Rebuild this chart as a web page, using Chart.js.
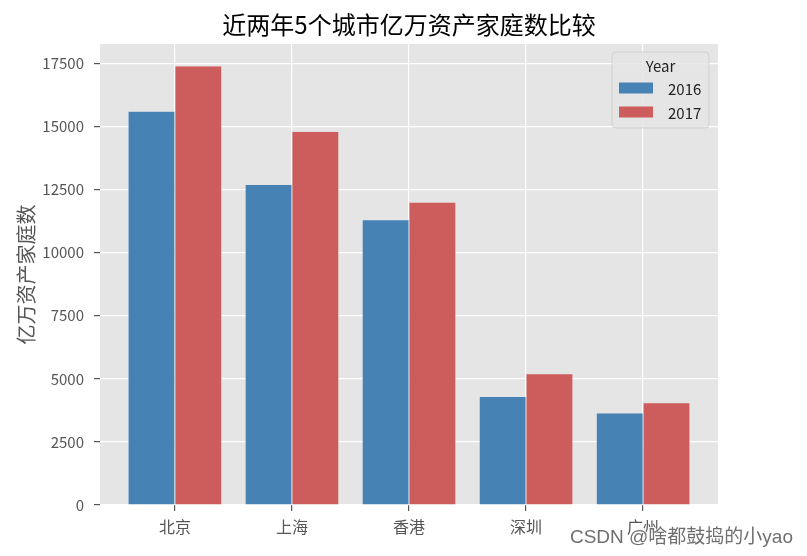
<!DOCTYPE html>
<html>
<head>
<meta charset="utf-8">
<script src="https://cdn.jsdelivr.net/npm/chart.js@4.4.0/dist/chart.umd.min.js"></script>
<style>
  html, body { margin: 0; padding: 0; background: #fff; }
  #wrap { width: 807px; height: 556px; }
</style>
</head>
<body>
<div id="wrap"><canvas id="chart" width="807" height="556"></canvas></div>
<script>
const cities = ['北京', '上海', '香港', '深圳', '广州'];
const years = ['2016', '2017'];
const values2016 = [15600, 12700, 11300, 4300, 3650];
const values2017 = [17400, 14800, 12000, 5200, 4050];
const yTicks = [0, 2500, 5000, 7500, 10000, 12500, 15000, 17500];

const FONT = '"Noto Sans CJK SC", "Noto Sans", sans-serif';

// gray panel behind the plot (ggplot look)
const panelBg = {
    id: 'panelBg',
    beforeDraw(chart) {
        const { ctx, chartArea: a } = chart;
        ctx.save();
        ctx.fillStyle = '#E5E5E5';
        ctx.fillRect(a.left, a.top, a.right - a.left, a.bottom - a.top);
        ctx.restore();
    }
};

// legend box inside the plot, top right, with title "Year"
const boxLegend = {
    id: 'boxLegend',
    afterDraw(chart) {
        const { ctx } = chart;
        const x = 612, y = 52, w = 97, h = 76;
        ctx.save();
        ctx.beginPath();
        ctx.roundRect(x, y, w, h, 4);
        ctx.fillStyle = 'rgba(229,229,229,0.85)';
        ctx.fill();
        ctx.strokeStyle = 'rgba(204,204,204,0.8)';
        ctx.lineWidth = 1;
        ctx.stroke();
        ctx.fillStyle = '#222';
        ctx.font = '15px ' + FONT;
        ctx.textAlign = 'center';
        ctx.textBaseline = 'middle';
        ctx.fillText('Year', x + w / 2, y + 14);
        ctx.textAlign = 'left';
        ctx.font = '15px ' + FONT;
        chart.data.datasets.forEach((ds, i) => {
            const cy = y + 36 + i * 24;
            ctx.fillStyle = ds.backgroundColor;
            ctx.fillRect(x + 7, cy - 5.5, 34, 11);
            ctx.fillStyle = '#222';
            ctx.fillText(ds.label, x + 56, cy + 1);
        });
        ctx.restore();
    }
};

const watermark = {
    id: 'watermark',
    afterDraw(chart) {
        const { ctx } = chart;
        ctx.save();
        ctx.font = '19px "Liberation Sans", ' + FONT;
        ctx.textAlign = 'right';
        ctx.textBaseline = 'middle';
        ctx.strokeStyle = 'rgba(255,255,255,0.8)';
        ctx.lineWidth = 2;
        ctx.strokeText('CSDN @啥都鼓捣的小yao', 793, 538);
        ctx.fillStyle = '#6f6f6f';
        ctx.fillText('CSDN @啥都鼓捣的小yao', 793, 538);
        ctx.restore();
    }
};

new Chart(document.getElementById('chart'), {
    type: 'bar',
    data: {
        datasets: [
            {
                label: years[0],
                data: values2016.map((v, i) => ({ x: i, y: v })),
                backgroundColor: '#4682B4',
                borderColor: 'rgba(200,215,230,0.6)',
                borderWidth: 0.5
            },
            {
                label: years[1],
                data: values2017.map((v, i) => ({ x: i, y: v })),
                backgroundColor: '#CD5C5C',
                borderColor: 'rgba(230,180,180,0.6)',
                borderWidth: 0.5
            }
        ]
    },
    options: {
        responsive: false,
        animation: false,
        categoryPercentage: 0.8,
        barPercentage: 1.0,
        layout: { padding: { left: 0, right: 89, top: 0, bottom: 0 } },
        plugins: {
            legend: { display: false },
            tooltip: { enabled: false },
            title: {
                display: true,
                fullSize: false,
                text: '近两年5个城市亿万资产家庭数比较',
                color: '#000',
                font: { family: FONT, size: 24, weight: 'normal' },
                padding: { top: 10, bottom: 5.2 }
            }
        },
        scales: {
            x: {
                type: 'linear',
                min: -0.64,
                max: 4.64,
                offset: false,
                afterBuildTicks: (s) => { s.ticks = cities.map((_, i) => ({ value: i })); },
                afterFit: (s) => { s.height = 51; },
                grid: { offset: false, color: '#ffffff', lineWidth: 1.2, tickColor: '#555', tickLength: 6 },
                border: { display: false },
                ticks: {
                    color: '#555',
                    padding: 6,
                    font: { family: FONT, size: 16 },
                    callback: (v) => cities[v]
                }
            },
            y: {
                min: 0,
                max: 18270,
                afterBuildTicks: (s) => { s.ticks = yTicks.map(v => ({ value: v })); },
                afterFit: (s) => { s.width = 100; },
                grid: { color: '#ffffff', lineWidth: 1.2, tickColor: '#555', tickLength: 6 },
                border: { display: false },
                ticks: {
                    color: '#555',
                    padding: 10,
                    font: { family: FONT, size: 15 },
                    callback: (v) => String(v)
                },
                title: {
                    display: true,
                    text: '亿万资产家庭数',
                    color: '#555',
                    font: { family: FONT, size: 20 },
                    padding: { top: 14, bottom: 0 }
                }
            }
        }
    },
    plugins: [panelBg, boxLegend, watermark]
});
</script>
</body>
</html>
